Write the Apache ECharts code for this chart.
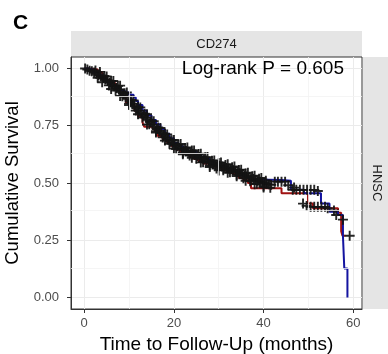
<!DOCTYPE html>
<html><head><meta charset="utf-8">
<script src="https://cdn.jsdelivr.net/npm/echarts@6/dist/echarts.min.js"></script>
<style>html,body{margin:0;padding:0;background:#fff}#c{width:388px;height:354px}</style>
</head><body><div id="c"></div>
<script>
// ---- data ----
const panelTitle = 'CD274';
const stripRight = 'HNSC';
const xTicks = [0, 20, 40, 60];
const yTicks = [0, 0.25, 0.5, 0.75, 1];
const xMinor = [10, 30, 50];
const yMinor = [0.125, 0.375, 0.625, 0.875];
// Kaplan-Meier steps [time (months), survival]
const blueCurve = [[0,1],[1,0.995],[2,0.985],[3,0.97],[4,0.955],[5,0.94],[6,0.925],[7,0.915],[8,0.905],[9,0.895],[10,0.885],[11,0.873],[11.5,0.858],[12,0.84],[13,0.815],[14,0.795],[15,0.775],[16,0.755],[17,0.735],[18,0.715],[19,0.695],[20,0.675],[21,0.66],[22,0.65],[23,0.64],[24,0.635],[25,0.625],[26,0.615],[27,0.605],[28,0.595],[29,0.585],[30,0.575],[31,0.57],[32,0.56],[33,0.555],[34,0.545],[35,0.535],[36,0.525],[37,0.515],[38,0.513],[44,0.51],[46.1,0.47],[49,0.455],[52.8,0.41],[54.7,0.375],[56.6,0.36],[57.7,0.27],[58.0,0.127],[58.7,0]];
const redCurve = [[0,1],[1,0.995],[3,0.985],[4,0.965],[5,0.95],[6,0.935],[7,0.92],[8,0.905],[8.6,0.88],[9.3,0.85],[10,0.843],[11.2,0.815],[12,0.79],[13,0.765],[13.4,0.745],[15.3,0.735],[16.4,0.705],[17.5,0.69],[18.5,0.675],[19.5,0.66],[20.5,0.645],[21.5,0.635],[22.5,0.625],[23.5,0.615],[24.5,0.605],[25.5,0.595],[26.5,0.585],[27.5,0.578],[28.5,0.57],[29.5,0.563],[30.5,0.555],[31.5,0.548],[32.5,0.54],[33.5,0.532],[34.5,0.522],[35.5,0.512],[36.5,0.5],[37.2,0.477],[43.2,0.477],[44,0.455],[49.9,0.41],[51,0.39],[56.6,0.37],[57.3,0.29],[57.6,0.27],[58.2,0.27]];
// censoring marks [time, survival]
const censored = [[0.2,1.0],[0.7,0.995],[1.2,0.99],[1.7,0.988],[2.2,0.982],[2.7,0.977],[3.2,0.97],[3.7,0.965],[4.2,0.958],[4.7,0.952],[5.2,0.945],[5.7,0.938],[6.2,0.93],[6.7,0.922],[7.2,0.915],[7.7,0.908],[8.2,0.898],[8.7,0.89],[9.2,0.876],[9.7,0.868],[10.2,0.856],[10.7,0.846],[11.2,0.835],[11.7,0.826],[12.2,0.816],[12.7,0.806],[13.2,0.796],[13.7,0.786],[14.2,0.776],[14.7,0.766],[15.2,0.756],[15.7,0.746],[16.2,0.736],[16.7,0.727],[17.2,0.718],[17.7,0.71],[18.2,0.7],[18.7,0.69],[19.2,0.68],[19.7,0.672],[20.2,0.665],[20.7,0.66],[21.2,0.653],[21.7,0.648],[22.2,0.643],[22.7,0.64],[23.2,0.636],[23.7,0.632],[24.2,0.628],[24.7,0.623],[25.2,0.618],[25.7,0.613],[26.2,0.608],[26.7,0.603],[27.2,0.598],[27.7,0.593],[28.2,0.588],[28.7,0.583],[29.2,0.579],[29.7,0.576],[30.2,0.574],[30.7,0.572],[31.2,0.569],[31.7,0.566],[32.2,0.563],[32.7,0.56],[33.2,0.556],[33.7,0.552],[34.2,0.548],[34.7,0.543],[35.2,0.538],[35.7,0.533],[36.2,0.528],[36.7,0.524],[37.2,0.52],[37.7,0.517],[38.2,0.513],[38.7,0.51],[39.2,0.506],[39.7,0.503],[40.2,0.5],[40.7,0.497],[41.2,0.494],[41.7,0.492],
[3.5,0.985],[5,0.965],[6.5,0.945],[8,0.925],[9.5,0.895],[11,0.86],[12.5,0.83],[14,0.8],[15.5,0.77],[17,0.74],[18.5,0.712],[20,0.688],[21.5,0.67],[23,0.655],[24.5,0.642],[26,0.628],[27.5,0.613],[29,0.598],[30.5,0.59],[32,0.582],[33.5,0.572],[35,0.558],[36.5,0.545],[38,0.532],[39.5,0.522],
[4,0.94],[6,0.91],[8,0.88],[10,0.84],[12,0.8],[14,0.755],[16,0.72],[18,0.685],[20,0.65],[22,0.625],[24,0.61],[26,0.59],[28,0.57],[30,0.555],[32,0.545],[34,0.53],[36,0.51],[38,0.495],[40,0.48],
[2.5,0.991],[4.5,0.967],[6,0.945],[7.5,0.923],[9,0.892],[10.5,0.862],[12,0.832],[13.5,0.802],[15,0.772],[16.5,0.742],[18,0.715],[19.5,0.687],[21,0.667],[22.5,0.653],[24,0.642],[25.5,0.627],[27,0.612],[28.5,0.597],[30,0.587],[31.5,0.579],[33,0.569],[34.5,0.557],[36,0.542],[37.5,0.53],[39,0.519],[40.5,0.51],
[3,0.959],[5.5,0.926],[7,0.904],[8.5,0.879],[10,0.846],[11.5,0.816],[13,0.786],[14.5,0.756],[16,0.726],[17.5,0.699],[19,0.671],[20.5,0.648],[22,0.631],[23.5,0.62],[25,0.606],[26.5,0.591],[28,0.576],[29.5,0.563],[31,0.556],[32.5,0.547],[34,0.536],[35.5,0.521],[37,0.508],[38.5,0.497],[40,0.486],[41.5,0.479],
[42.5,0.506],[43.2,0.506],[44,0.506],[44.8,0.506],[45.5,0.49],[46.8,0.48],[46.5,0.47],[47.3,0.47],[48.1,0.47],[48.9,0.47],[49.7,0.47],[50.5,0.47],[51.3,0.47],[52.1,0.465],
[48.8,0.41],[49.6,0.4],[50.5,0.396],[51.3,0.396],[52.1,0.396],[52.9,0.396],[53.7,0.396],[54.3,0.39],[55.7,0.38],[56.2,0.36],[57.7,0.34],[59.2,0.27]];
const pLabel = 'Log-rank P = 0.605';
const xTitle = 'Time to Follow-Up (months)';
const yTitle = 'Cumulative Survival';

const FONT = '"Liberation Sans", Arial, sans-serif';
const G = {left:71, top:57, width:291, height:252};
const chart = echarts.init(document.getElementById('c'), null, {renderer:'canvas'});
const plus = 'path://M4.05,0h1.9v10h-1.9z M0,4.05h10v1.9h-10z';
const gridMajor = {show:true, lineStyle:{color:'#ebebeb', width:1}};
chart.setOption({
  animation:false,
  backgroundColor:'#fff',
  grid:{left:G.left, top:G.top, width:G.width, height:G.height, containLabel:false, outerBoundsMode:'none',
        show:true, borderColor:'#333', borderWidth:1, backgroundColor:'#fff'},
  xAxis:{
    type:'value', min:-2.95, max:61.95,
    axisLine:{show:true, onZero:false, lineStyle:{color:'#333', width:1}},
    axisTick:{show:true, length:4, customValues:xTicks, lineStyle:{color:'#333'}},
    axisLabel:{customValues:xTicks, margin:8, color:'#4d4d4d', fontSize:13, fontFamily:FONT},
    splitLine:gridMajor,
    name:xTitle, nameLocation:'middle', nameGap:24,
    nameTextStyle:{color:'#000', fontSize:19, fontFamily:FONT}
  },
  yAxis:{
    type:'value', min:-0.05, max:1.05,
    axisLine:{show:true, onZero:false, lineStyle:{color:'#333', width:1}},
    axisTick:{show:true, length:4, customValues:yTicks, lineStyle:{color:'#333'}},
    axisLabel:{customValues:yTicks, margin:12, color:'#4d4d4d', fontSize:13, fontFamily:FONT, formatter:v=>v.toFixed(2)},
    splitLine:gridMajor,
    name:yTitle, nameLocation:'middle', nameGap:46,
    nameTextStyle:{color:'#000', fontSize:18.5, fontFamily:FONT}
  },
  series:[
    {type:'line', data:[], silent:true, z:1,
     markLine:{silent:true, symbol:'none', label:{show:false}, animation:false,
       lineStyle:{color:'#f2f2f2', width:0.8, type:'solid'},
       data:xMinor.map(v=>({xAxis:v})).concat(yMinor.map(v=>({yAxis:v})))}},
    {type:'line', step:'end', data:redCurve, showSymbol:false, lineStyle:{color:'#a01212', width:2}, z:2},
    {type:'line', step:'end', data:blueCurve, showSymbol:false, lineStyle:{color:'#1414a0', width:2}, z:3},
    {type:'scatter', data:censored, symbol:plus, symbolSize:10, itemStyle:{color:'#141414', opacity:0.92}, z:4}
  ],
  graphic:[
    {type:'rect', shape:{x:G.left, y:31, width:G.width, height:26}, style:{fill:'#e5e5e5'}, z:-1},
    {type:'text', x:G.left+G.width/2, y:44, style:{text:panelTitle, fontSize:13, fontFamily:FONT, fill:'#1a1a1a', align:'center', verticalAlign:'middle'}},
    {type:'rect', shape:{x:G.left+G.width+1, y:G.top, width:388-G.left-G.width-1, height:G.height}, style:{fill:'#e5e5e5'}, z:-1},
    {type:'text', x:377, y:183, rotation:-Math.PI/2, style:{text:stripRight, fontSize:13, fontFamily:FONT, fill:'#1a1a1a', align:'center', verticalAlign:'middle'}},
    {type:'text', x:13, y:23, style:{text:'C', fontSize:21, fontWeight:'bold', fontFamily:FONT, fill:'#000', align:'left', verticalAlign:'middle'}},
    {type:'text', x:344, y:69, style:{text:pLabel, fontSize:19, fontFamily:FONT, fill:'#000', align:'right', verticalAlign:'middle'}, z:10}
  ]
});
</script></body></html>
